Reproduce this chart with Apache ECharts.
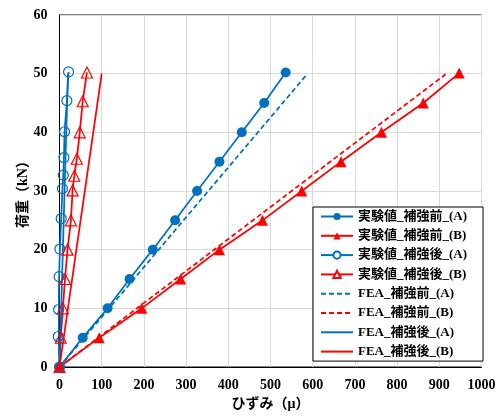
<!DOCTYPE html>
<html>
<head>
<meta charset="utf-8">
<script src="https://cdn.jsdelivr.net/npm/echarts@6/dist/echarts.min.js"></script>
<style>
  html, body { margin: 0; padding: 0; background: #fff; }
  #main { width: 501px; height: 416px; }
</style>
</head>
<body>
<div id="main"></div>
<script>
// 実験値 (strain μ / load kN)
var strainPreA = [0, 55, 114, 166, 221, 274, 326, 379, 432, 485, 536];
var loadPreA   = [0, 5, 10, 15, 20, 25, 30, 35, 40, 45, 50.2];
var strainPreB = [0, 94, 195, 287, 379, 481, 574, 667, 763, 862, 947];
var loadPreB   = [0, 5, 10, 15, 20, 25, 30, 35, 40, 45, 50.1];
var strainPostA = [0, -3, -2, -1, 1, 4, 7, 9, 10.5, 12, 17.5, 21.5];
var loadPostA   = [0, 5.2, 9.8, 15.4, 20.1, 25.3, 30.4, 32.7, 35.7, 40.1, 45.4, 50.3];
var strainPostB = [0, 3, 8, 13, 19, 27, 31, 35, 41, 48, 55, 65];
var loadPostB   = [0, 5, 10, 15, 20, 25, 30.1, 32.6, 35.5, 40, 45.3, 50.2];
// FEA
var feaStrainPreA = [0, 583];
var feaLoadPreA   = [0, 49.6];
var feaStrainPreB = [0, 915];
var feaLoadPreB   = [0, 49.9];
var feaStrainPostA = [0, 20];
var feaLoadPostA   = [0, 50];
var feaStrainPostB = [0, 100];
var feaLoadPostB   = [0, 50];

var names = ['実験値_補強前_(A)', '実験値_補強前_(B)', '実験値_補強後_(A)', '実験値_補強後_(B)',
             'FEA_補強前_(A)', 'FEA_補強前_(B)', 'FEA_補強後_(A)', 'FEA_補強後_(B)'];

var BLUE = '#0070C0', RED = '#FF0000';
var FONT = '"Liberation Serif", "Noto Sans CJK JP", serif';

function pairs(xs, ys) {
  return xs.map(function (x, i) { return [x, ys[i]]; });
}

function expSeries(name, xs, ys, color, symbol, filled) {
  return {
    name: name, type: 'line', data: pairs(xs, ys),
    symbol: symbol, symbolSize: symbol === 'circle' ? 10 : 11,
    clip: false,
    lineStyle: { color: color, width: 1.75 },
    itemStyle: filled ? { color: color } : { color: 'rgba(255,255,255,0)', borderColor: color, borderWidth: 1.2 }
  };
}

function feaSeries(name, xs, ys, color, dashed) {
  return {
    name: name, type: 'line', data: pairs(xs, ys),
    symbol: 'none', clip: false,
    itemStyle: { color: color },
    lineStyle: { color: color, width: 1.75, type: dashed ? [5, 3] : 'solid' }
  };
}

// legend entries: FEA ones show only the line
var legendData = names.map(function (n, i) {
  if (i >= 4) return { name: n, itemStyle: { color: 'rgba(0,0,0,0)', borderWidth: 0 } };
  if (i === 2 || i === 3) return { name: n, itemStyle: { color: '#fff' } };
  return { name: n };
});

var myChart = echarts.init(document.getElementById('main'));

var option = {
  animation: false,
  textStyle: { fontFamily: FONT },
  grid: { left: 59.5, right: 19.5, top: 15, bottom: 49, show: true, borderColor: '#000', borderWidth: 1 },
  xAxis: {
    type: 'value', min: 0, max: 1000, interval: 100,
    name: 'ひずみ（μ）', nameLocation: 'middle', nameGap: 30, nameMoveOverlap: false,
    nameTextStyle: { fontFamily: FONT, fontWeight: 'bold', fontSize: 14, color: '#000' },
    axisLine: { lineStyle: { color: '#000', width: 1 } },
    axisTick: { show: false },
    axisLabel: { fontFamily: FONT, fontWeight: 'bold', fontSize: 14, color: '#000', margin: 11,
                 formatter: function (v) { return String(v); } },
    splitLine: { lineStyle: { color: '#d9d9d9', width: 1 } }
  },
  yAxis: {
    type: 'value', min: 0, max: 60, interval: 10,
    name: '荷重（kN）', nameLocation: 'middle', nameGap: 36, nameRotate: 90, nameMoveOverlap: false,
    nameTextStyle: { fontFamily: FONT, fontWeight: 'bold', fontSize: 14, color: '#000',
                     verticalAlign: 'middle' },
    axisLine: { lineStyle: { color: '#000', width: 1 } },
    axisTick: { show: false },
    axisLabel: { fontFamily: FONT, fontWeight: 'bold', fontSize: 14, color: '#000', margin: 12 },
    splitLine: { lineStyle: { color: '#d9d9d9', width: 1 } }
  },
  legend: {
    orient: 'vertical', left: 313, top: 207,
    backgroundColor: '#fff', borderColor: '#000', borderWidth: 1,
    padding: [3, 16, 3, 7],
    itemWidth: 32, itemHeight: 9, itemGap: 6.3,
    textStyle: { fontFamily: FONT, fontWeight: 'bold', fontSize: 13, color: '#000' },
    data: legendData
  },
  series: [
    expSeries(names[0], strainPreA, loadPreA, BLUE, 'circle', true),
    expSeries(names[1], strainPreB, loadPreB, RED, 'triangle', true),
    expSeries(names[2], strainPostA, loadPostA, BLUE, 'circle', false),
    expSeries(names[3], strainPostB, loadPostB, RED, 'triangle', false),
    feaSeries(names[4], feaStrainPreA, feaLoadPreA, BLUE, true),
    feaSeries(names[5], feaStrainPreB, feaLoadPreB, RED, true),
    feaSeries(names[6], feaStrainPostA, feaLoadPostA, BLUE, false),
    feaSeries(names[7], feaStrainPostB, feaLoadPostB, RED, false)
  ]
};

myChart.setOption(option);
</script>
</body>
</html>
